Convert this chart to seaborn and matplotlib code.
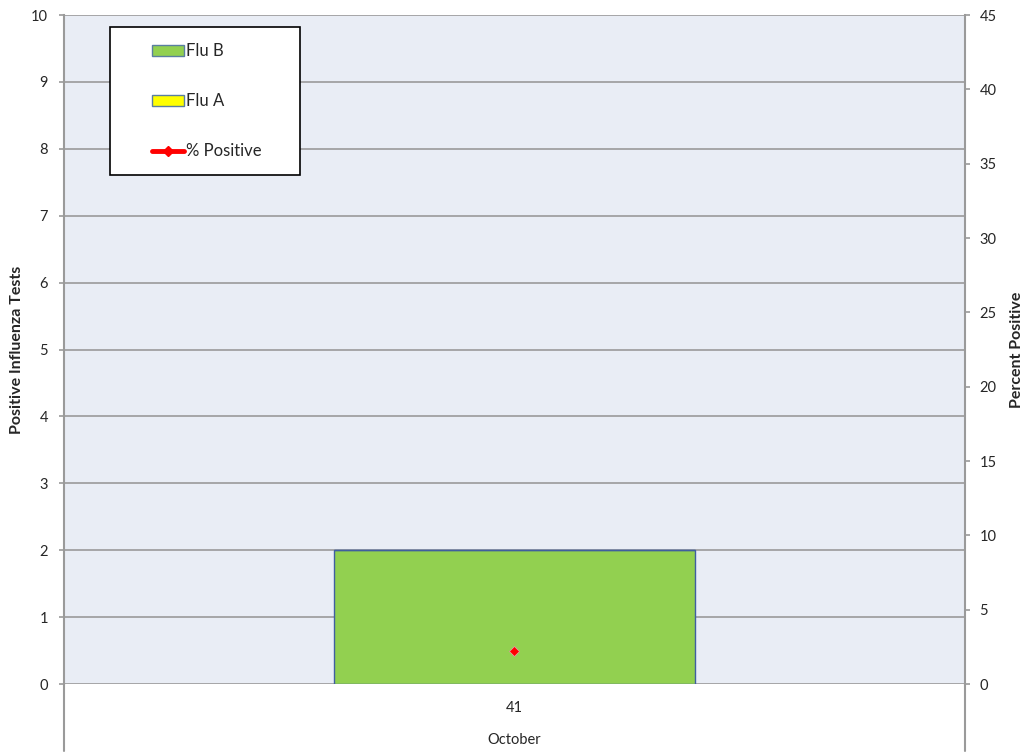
import matplotlib
matplotlib.use("Agg")
import matplotlib.pyplot as plt
import seaborn as sns
import numpy as np
from matplotlib.patches import Patch, Rectangle
from matplotlib.lines import Line2D

# data
weeks = ["41"]
month_labels = ["October"]
flu_b = [2]
flu_a = [0]
pct_positive = [2.2]

sns.set_style("white")
plt.rcParams['font.family'] = ['Lato', 'DejaVu Sans']

fig = plt.figure(figsize=(10.26, 7.52), dpi=100)
ax = fig.add_axes([0.0624, 0.0904, 0.878, 0.8896])
ax.set_facecolor("#E9EDF5")

grid_col = "#9A9A9A"
txt_col = "#262626"
x = np.arange(len(weeks))

sns.barplot(x=x, y=flu_b, color="#92D050", edgecolor="#3F5F9F", linewidth=1,
            width=0.4, saturation=1, ax=ax, zorder=3)
ax.bar(x, flu_a, bottom=flu_b, width=0.4, color="#FFFF00", edgecolor="#3F5F9F",
       linewidth=1, zorder=3)

ax.set_ylim(0, 10)
ax.set_yticks(range(0, 11))
ax.set_xlim(-0.5, len(weeks) - 0.5)
ax.grid(axis="y", color=grid_col, linewidth=1.2, zorder=0)
ax.set_axisbelow(True)
ax.set_xticks(x)
ax.set_xticklabels(weeks)
ax.tick_params(axis="x", length=0, pad=12, labelsize=10.5, labelcolor=txt_col)
ax.tick_params(axis="y", length=3.6, color=grid_col, width=1.2, pad=8,
               labelsize=10.5, labelcolor=txt_col, left=True)
ax.set_xlabel(month_labels[0], fontsize=10.5, color=txt_col, labelpad=13)
ax.set_ylabel("Positive Influenza Tests", fontsize=11.5, fontweight="bold")
ax.yaxis.set_label_coords(-0.044, 0.5)

for s in ["top", "bottom"]:
    ax.spines[s].set_visible(False)
for s in ["left", "right"]:
    ax.spines[s].set_color(grid_col)
    ax.spines[s].set_linewidth(1.5)
# axis lines run down past the category labels
for xa in (0, 1):
    ax.add_line(Line2D([xa, xa], [0, -0.1], transform=ax.transAxes,
                       color=grid_col, linewidth=1.5, clip_on=False))

ax2 = ax.twinx()
ax2.set_ylim(0, 45)
ax2.set_yticks(range(0, 46, 5))
sns.lineplot(x=x, y=pct_positive, ax=ax2, color="red", marker="D",
             markersize=5, markeredgecolor="#E8A0B0", markeredgewidth=0.5,
             linewidth=3, zorder=4)
ax2.tick_params(axis="y", length=3.6, color=grid_col, width=1.2, pad=7,
                labelsize=10.5, labelcolor=txt_col, right=True)
ax2.set_ylabel("Percent Positive", fontsize=11.5, fontweight="bold")
ax2.yaxis.set_label_coords(1.05, 0.5)
for s in ax2.spines.values():
    s.set_visible(False)

# legend frame
ax2.add_patch(Rectangle((0.0511, 0.7608), 0.2108, 0.2212, transform=ax.transAxes,
                        facecolor="white", edgecolor="black", linewidth=1.2,
                        zorder=9, clip_on=False))
handles = [
    Patch(facecolor="#92D050", edgecolor="#5A7FA0", linewidth=1),
    Patch(facecolor="#FFFF00", edgecolor="#5A7FA0", linewidth=1),
    Line2D([], [], color="red", linewidth=3.5, marker="D", markersize=5),
]
leg = ax2.legend(handles, ["Flu B", "Flu A", "% Positive"], loc="upper left",
                 bbox_to_anchor=(0.0977, 0.958), bbox_transform=ax.transAxes,
                 borderaxespad=0, borderpad=0, frameon=False,
                 fontsize=12, labelspacing=2.05, handlelength=1.92,
                 handleheight=0.6, handletextpad=0.1)
leg.set_zorder(10)
for t in leg.get_texts():
    t.set_color(txt_col)

fig.savefig("out.png", dpi=100)
